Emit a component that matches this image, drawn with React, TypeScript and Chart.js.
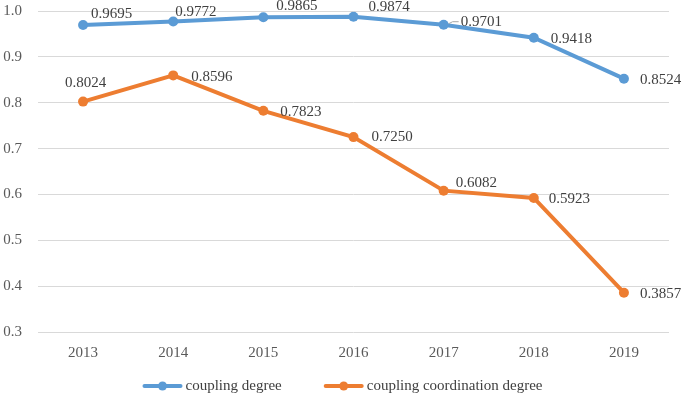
import React, { useEffect, useRef } from "react";
import { Chart, registerables } from "chart.js";

Chart.register(...registerables);

const years = ["2013", "2014", "2015", "2016", "2017", "2018", "2019"];
const couplingDegree = [0.9695, 0.9772, 0.9865, 0.9874, 0.9701, 0.9418, 0.8524];
const couplingCoordination = [0.8024, 0.8596, 0.7823, 0.725, 0.6082, 0.5923, 0.3857];
const seriesNames = ["coupling degree", "coupling coordination degree"];
const yTicks = { min: 0.3, max: 1.0, step: 0.1 };

const BLUE = "#5B9BD5";
const ORANGE = "#ED7D31";
const FONT = "'Liberation Serif', 'Times New Roman', serif";

// label offsets (style only): [dx from point to label left, dy of label center]
const blueOffsets: [number, number][] = [
  [8, -11], [2, -9], [13, -11], [15, -10], [17, -3], [17, 1], [16, 1],
];
const orangeOffsets: [number, number][] = [
  [-18, -19], [18, 2], [17, 1], [18, 0], [12, -8], [15, 1], [16, 1],
];

const labelPlugin = {
  id: "valueLabels",
  afterDatasetsDraw(chart: any) {
    const ctx = chart.ctx;
    ctx.save();
    ctx.font = `15px ${FONT}`;
    ctx.fillStyle = "#404040";
    ctx.textAlign = "left";
    ctx.textBaseline = "middle";
    const offs = [blueOffsets, orangeOffsets];
    chart.data.datasets.forEach((ds: any, di: number) => {
      const meta = chart.getDatasetMeta(di);
      meta.data.forEach((pt: any, i: number) => {
        const [dx, dy] = offs[di][i];
        const v = ds.data[i] as number;
        ctx.fillText(v.toFixed(4), pt.x + dx, pt.y + dy);
        if (di === 0 && i === 4) {
          ctx.strokeStyle = "#a6a6a6";
          ctx.lineWidth = 1;
          ctx.beginPath();
          ctx.moveTo(pt.x + 5, pt.y - 1);
          ctx.lineTo(pt.x + 9, pt.y - 3);
          ctx.lineTo(pt.x + 15, pt.y - 3);
          ctx.stroke();
        }
      });
    });
    ctx.restore();
  },
};

const legendPlugin = {
  id: "customLegend",
  afterDraw(chart: any) {
    const ctx = chart.ctx;
    ctx.save();
    ctx.font = `15px ${FONT}`;
    ctx.textBaseline = "middle";
    ctx.textAlign = "left";
    const colors = [BLUE, ORANGE];
    const lineW = 40;
    const gap = 3;
    const itemGap = 42;
    const widths = seriesNames.map((n) => lineW + gap + ctx.measureText(n).width);
    const total = widths.reduce((a, b) => a + b, 0) + itemGap;
    let x = (chart.width - total) / 2;
    const y = 386;
    seriesNames.forEach((name, i) => {
      ctx.strokeStyle = colors[i];
      ctx.lineWidth = 4;
      ctx.lineCap = "round";
      ctx.beginPath();
      ctx.moveTo(x + 2, y);
      ctx.lineTo(x + lineW - 2, y);
      ctx.stroke();
      ctx.fillStyle = colors[i];
      ctx.beginPath();
      ctx.arc(x + lineW / 2, y, 4.5, 0, Math.PI * 2);
      ctx.fill();
      ctx.fillStyle = "#404040";
      ctx.fillText(name, x + lineW + gap, y);
      x += widths[i] + itemGap;
    });
    ctx.restore();
  },
};

export default function App() {
  const ref = useRef<HTMLCanvasElement | null>(null);
  useEffect(() => {
    if (!ref.current) return;
    const chart = new Chart(ref.current, {
      type: "line",
      data: {
        labels: years,
        datasets: [
          {
            label: seriesNames[0],
            data: couplingDegree,
            borderColor: BLUE,
            backgroundColor: BLUE,
            borderWidth: 4,
            pointRadius: 5,
            pointBackgroundColor: BLUE,
            pointBorderWidth: 0,
            tension: 0,
          },
          {
            label: seriesNames[1],
            data: couplingCoordination,
            borderColor: ORANGE,
            backgroundColor: ORANGE,
            borderWidth: 4,
            pointRadius: 5,
            pointBackgroundColor: ORANGE,
            pointBorderWidth: 0,
            tension: 0,
          },
        ],
      },
      options: {
        animation: false,
        responsive: false,
        layout: { padding: { top: 11, right: 16, left: 0, bottom: 34 } },
        plugins: { legend: { display: false }, tooltip: { enabled: false } },
        scales: {
          x: {
            offset: true,
            grid: { display: false, drawTicks: false },
            border: { display: false },
            ticks: { color: "#595959", font: { family: FONT, size: 15 }, padding: 12, maxRotation: 0 },
            afterFit: (s: any) => { s.height = 30; },
          },
          y: {
            min: yTicks.min,
            max: yTicks.max,
            grid: { color: "#d9d9d9", lineWidth: 1, drawTicks: false },
            border: { display: false },
            ticks: {
              stepSize: yTicks.step,
              color: "#595959",
              font: { family: FONT, size: 15 },
              padding: 16,
              callback: (v: any) => Number(v).toFixed(1),
            },
            afterFit: (s: any) => {
              s.width = 38;
              s.paddingTop = 0;
              s.paddingBottom = 0;
            },
          },
        },
      },
      plugins: [labelPlugin, legendPlugin],
    });
    return () => chart.destroy();
  }, []);
  return (
    <div style={{ position: "fixed", left: 0, top: 0, width: 685, height: 396, background: "#fff" }}>
      <canvas ref={ref} width={685} height={396} />
    </div>
  );
}
